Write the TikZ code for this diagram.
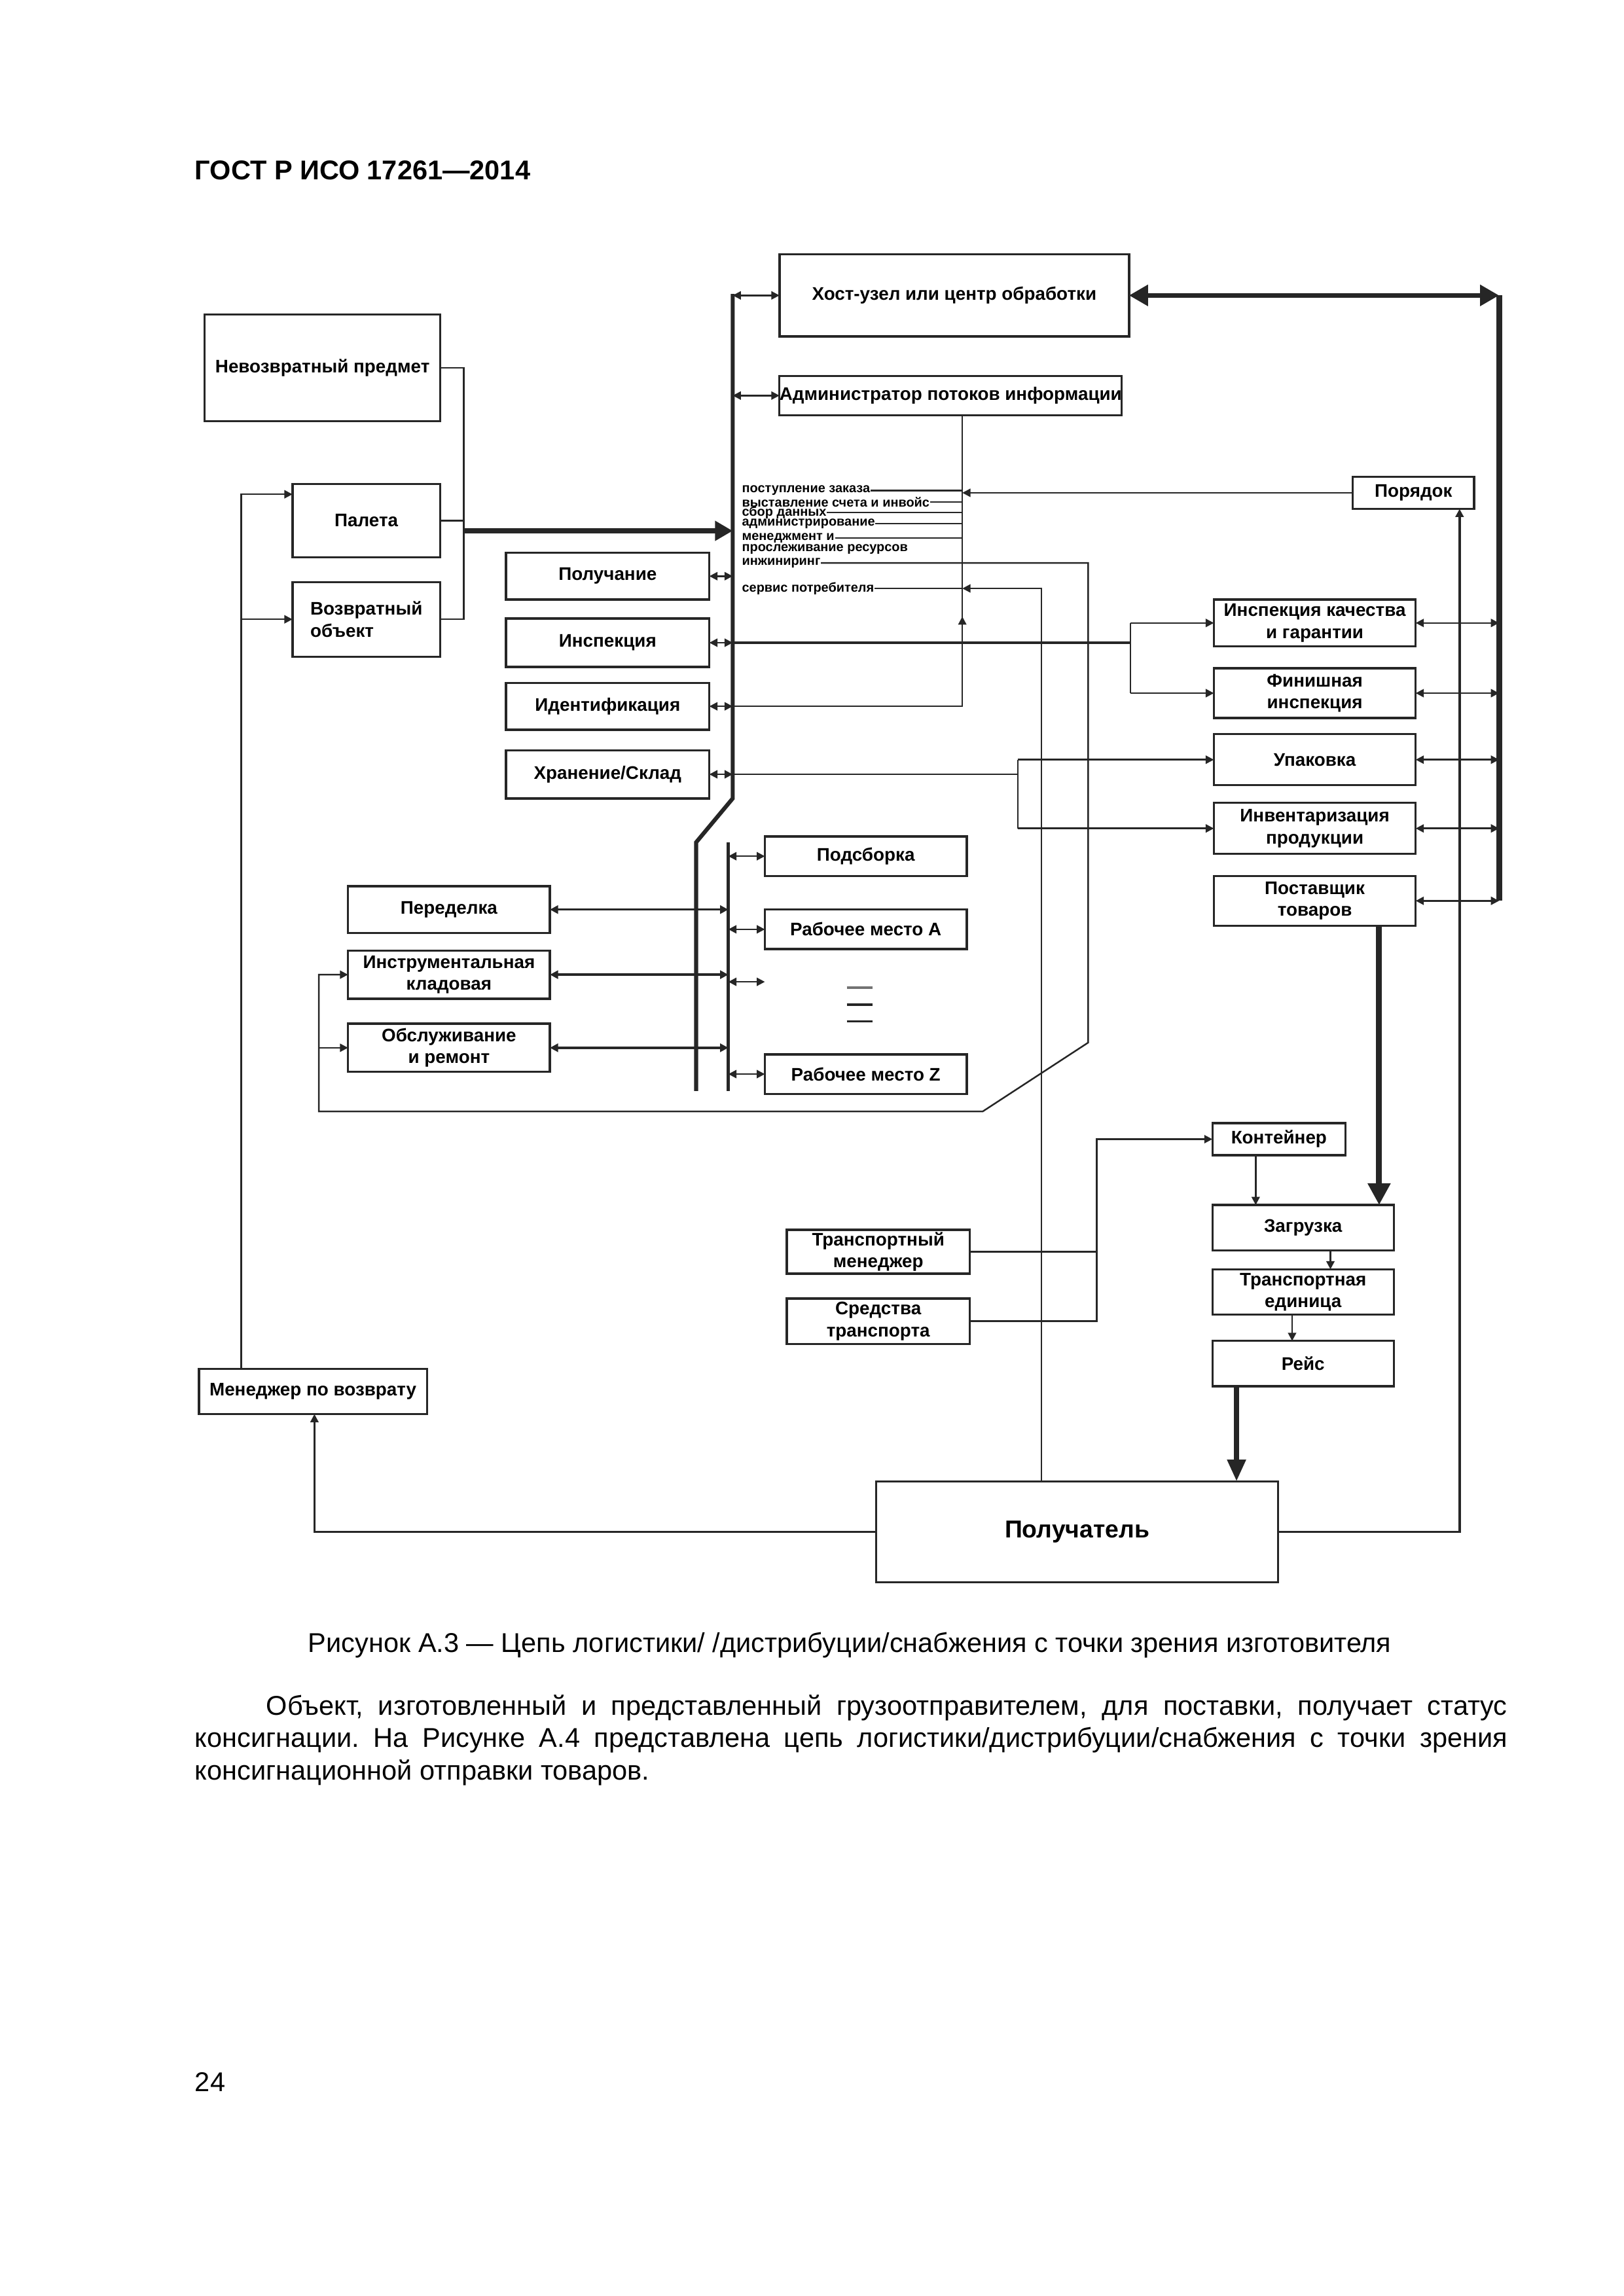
\documentclass[tikz,border=0pt]{standalone}
\usepackage{fontspec}
\setmainfont{Liberation Sans}
\usetikzlibrary{arrows.meta,calc}
\frenchspacing
\newcommand\mybox[7][]{%
  \pgfmathsetmacro\bxw{(#5-#3)*0.189189}%
  \pgfmathsetmacro\bxh{(#6-#4)*0.189189}%
  \node[box,minimum width=\bxw mm,minimum height=\bxh mm,#1] (#2) at ({(#3+#5)/2},{(#4+#6)/2}) {#7};}
\begin{document}
\begin{tikzpicture}[x=0.189189mm,y=-0.189189mm,
  every node/.style={inner sep=0pt},
  box/.style={draw=black!85, line width=0.8pt, fill=white, align=center, inner sep=0pt, outer sep=0pt,
    font=\bfseries\fontsize{6.7}{8}\selectfont},
  lbl/.style={anchor=west, font=\bfseries\fontsize{4.8}{4.8}\selectfont},
  ln/.style={draw=black!85, line width=0.6pt},
  mln/.style={draw=black!85, line width=0.85pt},
  ar/.style={ln, -{Triangle[length=3pt,width=3pt]}},
  dar/.style={ln, {Triangle[length=3pt,width=3pt]}-{Triangle[length=3pt,width=3pt]}},
  mdar/.style={mln, {Triangle[length=3pt,width=3pt]}-{Triangle[length=3pt,width=3pt]}},
  busline/.style={draw=black!85, line width=1.5pt},
  rbus/.style={draw=black!85, line width=2.2pt},
  thk/.style={draw=black!85, line width=1.9pt},
  txt/.style={font=\fontsize{10}{12}\selectfont},
]
\useasboundingbox (0,0) rectangle (1110,1570.1);

% ---------- header / footer text ----------
\node[anchor=base west, font=\bfseries\fontsize{10}{12}\selectfont] (title) at (133,123) {ГОСТ Р ИСО 17261—2014};
\node[anchor=base, txt] (cap) at (581,1130) {Рисунок А.3 — Цепь логистики/ /дистрибуции/снабжения с точки зрения изготовителя};
\node[anchor=base west, txt] (p1) at (181.7,1173) {\makebox[456.8pt][s]{Объект, изготовленный и представленный грузоотправителем, для поставки, получает статус}};
\node[anchor=base west, txt] (p2) at (133,1195) {\makebox[483pt][s]{консигнации. На Рисунке А.4 представлена цепь логистики/дистрибуции/снабжения с точки зрения}};
\node[anchor=base west, txt] (p3) at (133,1217) {консигнационной отправки товаров.};
\node[anchor=base west, txt] (pg) at (133,1430) {24};

% ---------- boxes ----------
\mybox{nev}{140}{215}{301}{288}{Невозвратный предмет}
\mybox{pal}{200}{331}{301}{381}{Палета}
\mybox[align=left]{voz}{200}{398}{301}{449}{Возвратный\\объект}
\mybox{host}{533}{174}{772}{230}{Хост-узел или центр обработки}
\mybox{adm}{533}{257}{767}{284}{Администратор потоков информации}
\mybox{por}{925}{326}{1008}{348}{Порядок}
\mybox{pol}{346}{378}{485}{410}{Получание}
\mybox{insp}{346}{423}{485}{456}{Инспекция}
\mybox{ident}{346}{467}{485}{499}{Идентификация}
\mybox{hran}{346}{513}{485}{546}{Хранение/Склад}
\mybox{ikach}{830}{410}{968}{442}{Инспекция качества\\и гарантии}
\mybox{fin}{830}{457}{968}{491}{Финишная\\инспекция}
\mybox{upak}{830}{502}{968}{537}{Упаковка}
\mybox{inv}{830}{549}{968}{584}{Инвентаризация\\продукции}
\mybox{post}{830}{599}{968}{633}{Поставщик\\товаров}
\mybox{podsb}{523}{572}{661}{599}{Подсборка}
\mybox{rma}{523}{622}{661}{649}{Рабочее место А}
\mybox{rmz}{523}{721}{661}{748}{Рабочее место Z}
\mybox{pered}{238}{606}{376}{638}{Переделка}
\mybox{instr}{238}{650}{376}{683}{Инструментальная\\кладовая}
\mybox{obsl}{238}{700}{376}{733}{Обслуживание\\и ремонт}
\mybox{kont}{829}{768}{920}{790}{Контейнер}
\mybox{zagr}{829}{824}{953}{855}{Загрузка}
\mybox{tred}{829}{868}{953}{899}{Транспортная\\единица}
\mybox{reis}{829}{917}{953}{948}{Рейс}
\mybox{trman}{538}{841}{663}{871}{Транспортный\\менеджер}
\mybox{sredst}{538}{888}{663}{919}{Средства\\транспорта}
\mybox{menv}{136}{936}{292}{967}{Менеджер по возврату}
\mybox[font=\bfseries\fontsize{9}{10}\selectfont]{poluch}{599}{1013}{874}{1082}{Получатель}

% ---------- small labels ----------
\node[lbl] (lpost) at (507,335.5) {поступление заказа};
\node[lbl] (lvys)  at (507,343.2) {выставление счета и инвойс};
\node[lbl] (lsbor) at (507,350.4) {сбор данных};
\node[lbl] (ladm)  at (507,358) {администрирование};
\node[lbl] (lmen)  at (507,367.8) {менеджмент и};
\node[lbl] (lpro)  at (507,375.6) {прослеживание ресурсов};
\node[lbl] (ling)  at (507,385) {инжиниринг};
\node[lbl] (lsrv)  at (507,402.4) {сервис потребителя};

% ---------- helper coordinates ----------
\coordinate (B) at (501,0);
\coordinate (RB) at (1025,0);
\coordinate (V1) at (658,0);
\coordinate (V2) at (712,0);
\coordinate (V3) at (744,0);
\coordinate (V4) at (773,0);
\coordinate (V5) at (696,0);
\coordinate (V6) at (750,0);
\coordinate (V7) at (998,0);
\coordinate (WB) at (498,0);
\coordinate (J) at (317,363);
\coordinate (R1) at (165,338);
\coordinate (R2) at (165,423.5);
\coordinate (UA) at (658,421.6);
\coordinate (D1) at (744,713);
\coordinate (D2) at (672,760);
\coordinate (L2) at (218,760);
\coordinate (L3) at (215,0);
\coordinate (WX) at (523,671.4);
\coordinate (A1) at (858.6,0);
\coordinate (A2) at (909.7,0);
\coordinate (A3) at (883.5,0);
\coordinate (A4) at (845.5,0);
\coordinate (A5) at (943,0);

% ---------- buses ----------
\draw[busline] (501,201) -- (501,546) -- (476,576) -- (476,746);
\draw[busline, line width=1.3pt] (498,576) -- (498,746);
\draw[rbus] (host.east -| RB) -- (RB |- post.east);

% ---------- left group ----------
\draw[ln] (nev.east) -| (J);
\draw[ln] (voz.east) -| (J);
\draw[ln] (pal.east) -- (pal.east -| J);
\draw[thk, -{Triangle[length=6.5pt,width=7pt]}] (J) -- (J -| B);
\draw[ar] (menv.north -| R1) -- (R1) -- (R1 -| pal.west);
\draw[ar] (R2) -- (R2 -| voz.west);

% ---------- top boxes ----------
\draw[dar] (B |- host.west) -- (host.west);
\draw[dar] (B |- adm.west) -- (adm.west);
\draw[thk, line width=1.7pt, {Triangle[length=7pt,width=7.5pt]}-{Triangle[length=7pt,width=7.5pt]}] (host.east) -- (host.east -| RB);

% ---------- right boxes to right bus ----------
\draw[dar] (ikach.east) -- (ikach.east -| RB);
\draw[dar] (fin.east) -- (fin.east -| RB);
\draw[dar] (upak.east) -- (upak.east -| RB);
\draw[dar] (inv.east) -- (inv.east -| RB);
\draw[dar] (post.east) -- (post.east -| RB);

% ---------- left boxes to bus ----------
\draw[dar] (pol.east) -- (pol.east -| B);
\draw[dar] (insp.east) -- (insp.east -| B);
\draw[dar] (ident.east) -- (ident.east -| B);
\draw[dar] (hran.east) -- (hran.east -| B);

\draw[mln] (insp.east -| B) -- (insp.east -| V4);
\draw[ln] (V4 |- ikach.west) -- (V4 |- fin.west);
\draw[ar] (V4 |- ikach.west) -- (ikach.west);
\draw[ar] (V4 |- fin.west) -- (fin.west);

\draw[ln] (hran.east -| B) -- (hran.east -| V5);
\draw[ln] (V5 |- upak.west) -- (V5 |- inv.west);
\draw[ar] (V5 |- upak.west) -- (upak.west);
\draw[ar] (V5 |- inv.west) -- (inv.west);

\draw[ln] (ident.east -| B) -- (ident.east -| V1) -- (adm.south -| V1);
\draw[ar] (ident.east -| V1) -- (UA);

% ---------- information labels ----------
\draw[ln] (lpost.east) -- (lpost.east -| V1);
\draw[ln] (lvys.east) -- (lvys.east -| V1);
\draw[ln] (lsbor.east) -- (lsbor.east -| V1);
\draw[ln] (ladm.east) -- (ladm.east -| V1);
\draw[ln] (lmen.east) -- (lmen.east -| V1);
\draw[ln] (lsrv.east) -- (lsrv.east -| V1);
\draw[ar] (por.west) -- (por.west -| V1);
\draw[ar] (V2 |- poluch.north) -- (V2 |- lsrv.east) -- (V1 |- lsrv.east);
\draw[ar] (ling.east) -- (ling.east -| V3) -- (D1) -- (D2) -- (L2) |- (instr.west);
\draw[ar] (L2 |- obsl.west) -- (obsl.west);
\draw[ar, line width=0.9pt] (poluch.east) -| (V7 |- por.south);

% ---------- workstations ----------
\draw[dar] (podsb.west -| WB) -- (podsb.west);
\draw[dar] (rma.west -| WB) -- (rma.west);
\draw[dar] (WX -| WB) -- (WX);
\draw[dar] (rmz.west -| WB) -- (rmz.west);
\draw[mdar] (pered.east) -- (pered.east -| WB);
\draw[mdar] (instr.east) -- (instr.east -| WB);
\draw[mdar] (obsl.east) -- (obsl.east -| WB);
\draw[ln, draw=black!55, line width=0.9pt] (579,675.5) -- (596.5,675.5);
\draw[ln, line width=0.9pt] (579,687) -- (596.5,687);
\draw[ln] (579,698.5) -- (596.5,698.5);

% ---------- transport ----------
\draw[ln] (trman.east) -- (trman.east -| V6);
\draw[ar] (sredst.east) -| (V6 |- kont.west) -- (kont.west);
\draw[ar] (kont.south -| A1) -- (zagr.north -| A1);
\draw[ar] (zagr.south -| A2) -- (tred.north -| A2);
\draw[ar] (tred.south -| A3) -- (reis.north -| A3);
\draw[thk, -{Triangle[length=8pt,width=6.5pt]}] (reis.south -| A4) -- (poluch.north -| A4);
\draw[thk, line width=2.2pt, -{Triangle[length=8pt,width=8pt]}] (post.south -| A5) -- (zagr.north -| A5);
\draw[ar] (poluch.west) -| (menv.south -| L3);
\end{tikzpicture}
\end{document}
